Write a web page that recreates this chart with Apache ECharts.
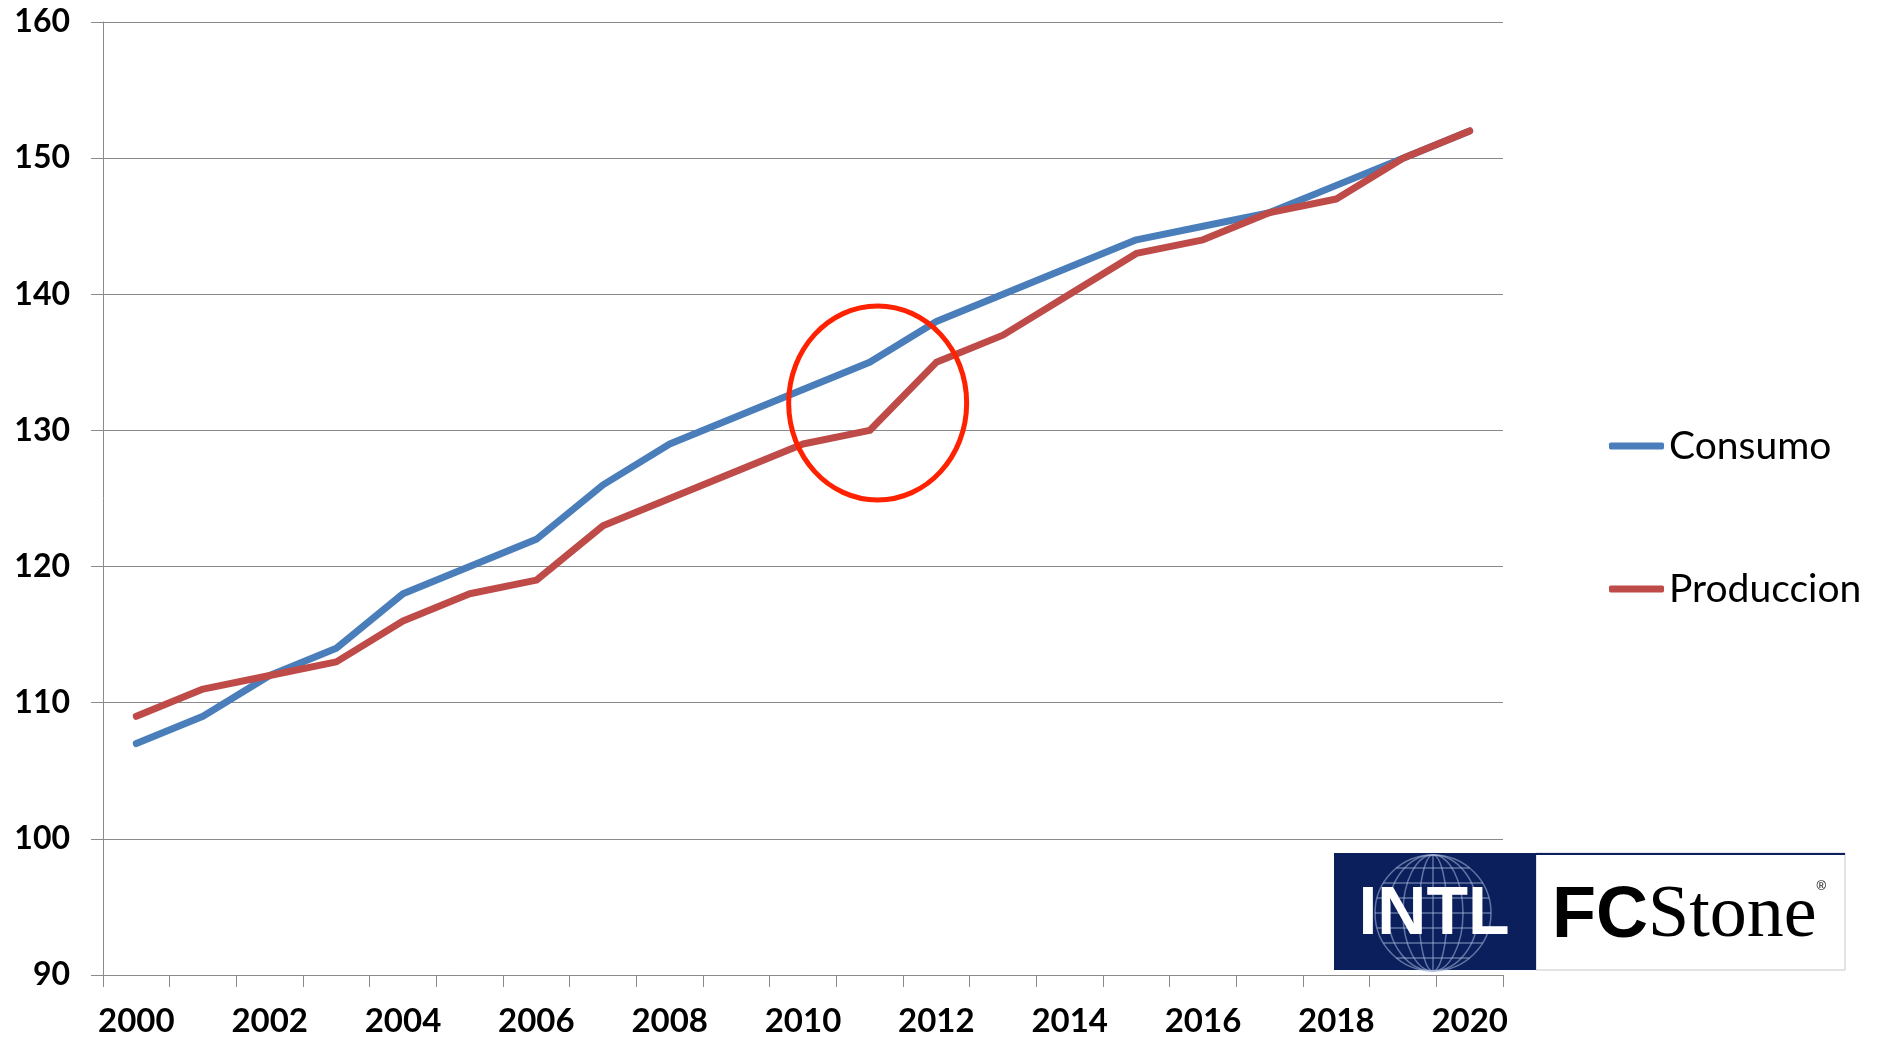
<!DOCTYPE html>
<html>
<head>
<meta charset="utf-8">
<title>Consumo vs Produccion</title>
<script src="https://cdn.jsdelivr.net/npm/echarts@6/dist/echarts.min.js"></script>
<style>
html, body { margin: 0; padding: 0; background: #fff; }
#div_chart { width: 1883px; height: 1040px; }
</style>
</head>
<body>
<div id="div_chart"></div>
<script>
/*
 datos
 * */
var years = ['2000','2001','2002','2003','2004','2005','2006','2007','2008','2009','2010',
    '2011','2012','2013','2014','2015','2016','2017','2018','2019','2020'];
var consumo = [107, 109, 112, 114, 118, 120, 122, 126, 129, 131, 133,
    135, 138, 140, 142, 144, 145, 146, 148, 150, 152];
var produccion = [109, 111, 112, 113, 116, 118, 119, 123, 125, 127, 129,
    130, 135, 137, 140, 143, 144, 146, 147, 150, 152];
var yTicks = [90, 100, 110, 120, 130, 140, 150, 160];

var gray = '#8a8a8a';
var labelFont = 'Lato, "Open Sans", sans-serif';

var _chart = echarts.init(document.getElementById('div_chart'));
_chart.setOption({
    animation: false,
    backgroundColor: '#ffffff',
    grid: {
        left: 103,
        right: 380,
        top: 22,
        bottom: 65
    },
    legend: {
        orient: 'vertical',
        left: 1604,
        top: 421,
        itemWidth: 55,
        itemHeight: 7,
        itemGap: 103,
        icon: 'roundRect',
        textStyle: {
            fontFamily: labelFont,
            fontSize: 39,
            lineHeight: 40,
            color: '#000'
        },
        data: ['Consumo', 'Produccion']
    },
    xAxis: {
        type: 'category',
        data: years,
        boundaryGap: true,
        axisLine: { lineStyle: { color: gray, width: 1 } },
        axisTick: { show: true, interval: 0, length: 12, lineStyle: { color: gray } },
        axisLabel: {
            interval: 1,
            margin: 30,
            fontFamily: labelFont,
            fontWeight: 'bold',
            fontSize: 33,
            color: '#000'
        }
    },
    yAxis: {
        type: 'value',
        min: yTicks[0],
        max: yTicks[yTicks.length - 1],
        interval: 10,
        axisLine: { show: true, lineStyle: { color: gray, width: 1 } },
        axisTick: { show: true, length: 12, lineStyle: { color: gray } },
        splitLine: { lineStyle: { color: gray, width: 1 } },
        axisLabel: {
            margin: 33,
            fontFamily: labelFont,
            fontWeight: 'bold',
            fontSize: 32,
            color: '#000'
        }
    },
    series: [
        {
            name: 'Consumo',
            type: 'line',
            data: consumo,
            symbol: 'none',
            z: 3,
            itemStyle: { color: '#4A7EBB' },
            lineStyle: { color: '#4A7EBB', width: 7, cap: 'round', join: 'round' }
        },
        {
            name: 'Produccion',
            type: 'line',
            data: produccion,
            symbol: 'none',
            z: 4,
            itemStyle: { color: '#BE4B48' },
            lineStyle: { color: '#BE4B48', width: 7, cap: 'round', join: 'round' }
        }
    ]
});

/*
 circulo rojo alrededor de 2011 y logo INTL FCStone
 * */
var pt = _chart.convertToPixel({ seriesIndex: 0 }, ['2011', 132]);

// globo del logo
var gx = 1433, gy = 913, gr = 58;
var globe = [
    { type: 'circle', shape: { cx: gx, cy: gy, r: gr } }
];
[-45, -30, -15, 0, 15, 30, 45].forEach(function(d) {
    var h = Math.sqrt(gr * gr - d * d);
    globe.push({ type: 'line', shape: { x1: gx - h, y1: gy + d, x2: gx + h, y2: gy + d } });
});
[14, 30, 45].forEach(function(rx) {
    globe.push({ type: 'ellipse', shape: { cx: gx, cy: gy, rx: rx, ry: gr } });
});
globe.push({ type: 'line', shape: { x1: gx, y1: gy - gr, x2: gx, y2: gy + gr } });
globe.forEach(function(g) {
    g.z = 101;
    g.style = { fill: null, stroke: 'rgba(170,185,220,0.55)', lineWidth: 1.5 };
});

_chart.setOption({
    graphic: [
        {
            type: 'ellipse',
            shape: { cx: pt[0] + 8, cy: 403, rx: 89, ry: 97 },
            style: { fill: null, stroke: '#FF2200', lineWidth: 5 },
            z: 100
        },
        {
            type: 'rect',
            shape: { x: 1536, y: 853, width: 309, height: 117 },
            style: { fill: '#ffffff', stroke: '#c8c8c8', lineWidth: 1 },
            z: 100
        },
        {
            type: 'rect',
            shape: { x: 1334, y: 853, width: 511, height: 2 },
            style: { fill: '#0B1F5C' },
            z: 101
        },
        {
            type: 'rect',
            shape: { x: 1334, y: 853, width: 202, height: 117 },
            style: { fill: '#0B1F5C' },
            z: 100
        },
        {
            type: 'group',
            z: 101,
            children: globe
        },
        {
            type: 'text',
            z: 102,
            style: {
                x: 1434, y: 915,
                text: 'INTL',
                fill: '#ffffff',
                font: 'bold 68px "Liberation Sans", Arial, sans-serif',
                align: 'center',
                verticalAlign: 'middle'
            }
        },
        {
            type: 'text',
            z: 102,
            style: {
                x: 1552, y: 917,
                text: '{a|FC}{b|Stone}{c|®}',
                verticalAlign: 'middle',
                rich: {
                    a: { fontFamily: '"Liberation Sans", Arial, sans-serif', fontWeight: 'bold', fontSize: 72, color: '#0B1F5C' },
                    b: { fontFamily: '"Liberation Serif", serif', fontSize: 74, color: '#0B1F5C' },
                    c: { fontFamily: '"Liberation Sans", sans-serif', fontSize: 13, color: '#0B1F5C', verticalAlign: 'top', padding: [0, 0, 30, 0] }
                }
            }
        }
    ]
});
</script>
</body>
</html>
